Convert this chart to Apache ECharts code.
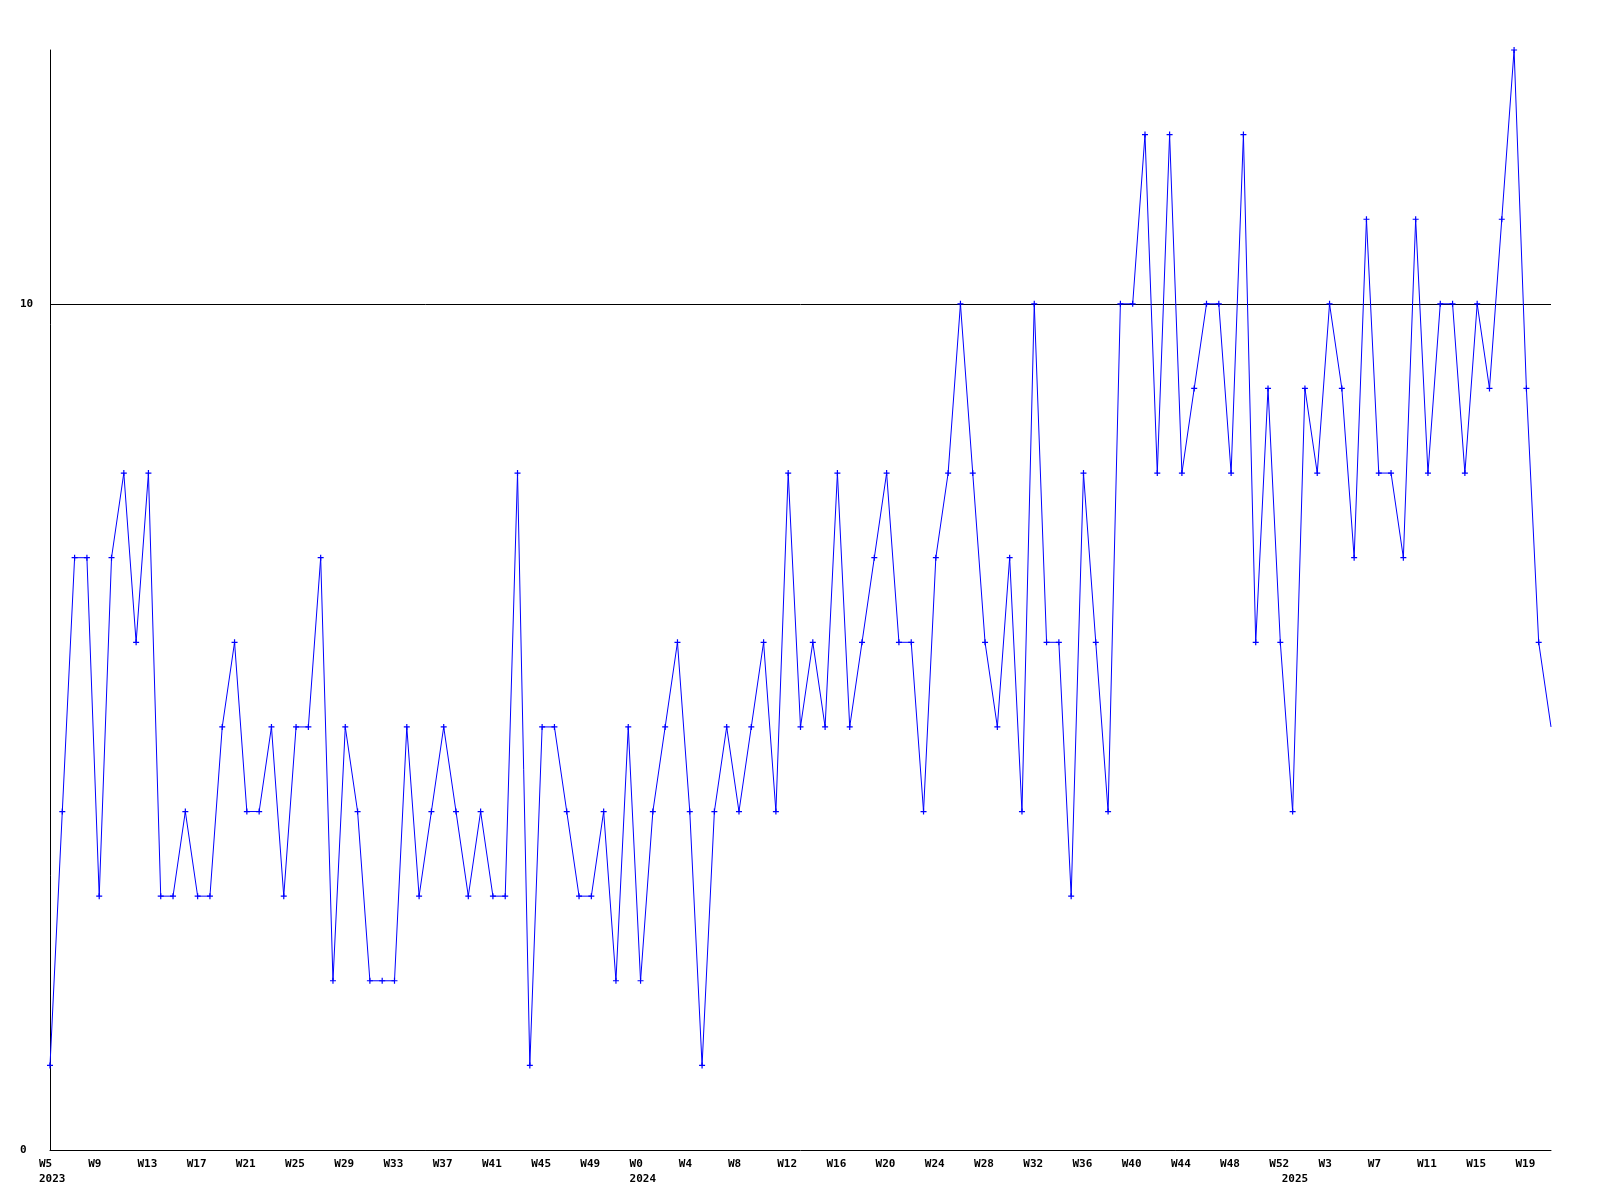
<!DOCTYPE html>
<html>
<head>
<meta charset="utf-8">
<script src="https://cdn.jsdelivr.net/npm/echarts@6/dist/echarts.min.js"></script>
<style>
html,body{margin:0;padding:0;background:#fff;}
#chart{width:1600px;height:1200px;}
</style>
</head>
<body>
<div id="chart"></div>
<script>
// Week labels per point
var weeks2023 = ['W5','W6','W7','W8','W9','W10','W11','W12','W13','W14','W15','W16','W17','W18','W19','W20','W21','W22','W23','W24','W25','W26','W27','W28','W29','W30','W31','W32','W33','W34','W35','W36','W37','W38','W39','W40','W41','W42','W43','W44','W45','W46','W47','W48','W49','W50','W51','W52'];
var weeks2024 = ['W0','W1','W2','W3','W4','W5','W6','W7','W8','W9','W10','W11','W12','W13','W14','W15','W16','W17','W18','W19','W20','W21','W22','W23','W24','W25','W26','W27','W28','W29','W30','W31','W32','W33','W34','W35','W36','W37','W38','W39','W40','W41','W42','W43','W44','W45','W46','W47','W48','W49','W50','W51','W52'];
var weeks2025 = ['W0','W1','W2','W3','W4','W5','W6','W7','W8','W9','W10','W11','W12','W13','W14','W15','W16','W17','W18','W19','W20','W21'];
var yearNames = ['2023','2024','2025'];

var values2023 = [1,4,7,7,3,7,8,6,8,3,3,4,3,3,5,6,4,4,5,3,5,5,7,2,5,4,2,2,2,5,3,4,5,4,3,4,3,3,8,1,5,5,4,3,3,4,2,5];
var values2024 = [2,4,5,6,4,1,4,5,4,5,6,4,8,5,6,5,8,5,6,7,8,6,6,4,7,8,10,8,6,5,7,4,10,6,6,3,8,6,4,10,10,12,8,12,8,9,10,10,8,12,6,9,6];
var values2025 = [4,9,8,10,9,7,11,8,8,7,11,8,10,10,8,10,9,11,13,9,6,5];

var yTickLabels = [0, 10];

var categories = [], years = [], values = [];
[[weeks2023, values2023], [weeks2024, values2024], [weeks2025, values2025]].forEach(function (pair, yi) {
  pair[0].forEach(function (w, i) {
    categories.push(w);
    years.push(yearNames[yi]);
    values.push(pair[1][i]);
  });
});

function isYearStart(idx) { return idx === 0 || years[idx] !== years[idx - 1]; }
function isWeekShown(idx) { return idx % 4 === 0; }

var seriesData = values.map(function (v, i) {
  if (i === values.length - 1) return { value: v, symbol: 'none' };
  return v;
});

var chart = echarts.init(document.getElementById('chart'), null, { renderer: 'canvas' });
var font = 'DejaVu Sans Mono';
chart.setOption({
  animation: false,
  backgroundColor: '#ffffff',
  grid: { left: 50, right: 49, top: 50, bottom: 50, containLabel: false },
  xAxis: {
    type: 'category',
    data: categories,
    boundaryGap: false,
    axisLine: { show: true, lineStyle: { color: '#000', width: 1 } },
    axisTick: { show: false },
    splitLine: { show: false },
    axisLabel: {
      interval: function (idx) { return isWeekShown(idx) || isYearStart(idx); },
      hideOverlap: false,
      margin: 7,
      color: '#000',
      fontFamily: font,
      fontWeight: 'bold',
      fontSize: 11,
      lineHeight: 15,
      formatter: function (val, idx) {
        var s = '{a|' + (isWeekShown(idx) ? val : ' ') + '}';
        if (isYearStart(idx)) {
          s += '\n{a|' + years[idx] + '}';
        }
        return s;
      },
      rich: {
        a: { width: 22, align: 'left', fontFamily: font, fontWeight: 'bold', fontSize: 11, lineHeight: 15, color: '#000' }
      }
    }
  },
  yAxis: {
    type: 'value',
    min: 0,
    max: 13,
    interval: 10,
    axisLine: { show: true, lineStyle: { color: '#000', width: 1 } },
    axisTick: { show: false },
    splitLine: { show: true, showMinLine: false, showMaxLine: false, lineStyle: { color: '#000', width: 1 } },
    axisLabel: {
      showMaxLabel: false,
      align: 'left',
      margin: 30,
      color: '#000',
      fontFamily: font,
      fontWeight: 'bold',
      fontSize: 11,
      formatter: function (v) { return yTickLabels.indexOf(v) >= 0 ? String(v) : ''; }
    }
  },
  series: [{
    type: 'line',
    data: seriesData,
    symbol: 'path://M2,0H3V2H5V3H3V5H2V3H0V2H2Z',
    symbolSize: 6,
    showAllSymbol: true,
    itemStyle: { color: '#0000ff' },
    lineStyle: { color: '#0000ff', width: 1 },
    emphasis: { disabled: true }
  }]
});
</script>
</body>
</html>
